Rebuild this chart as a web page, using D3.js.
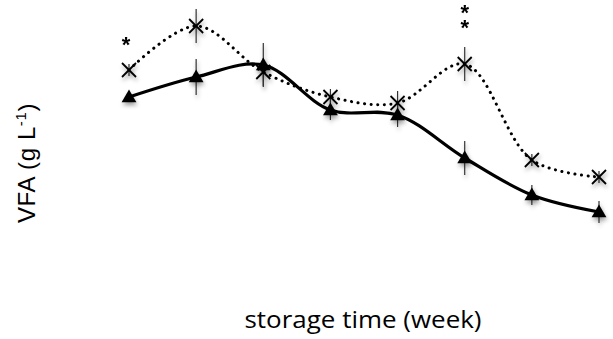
<!DOCTYPE html>
<html>
<head>
<meta charset="utf-8">
<script src="https://cdn.jsdelivr.net/npm/d3@7"></script>
<style>
  body { margin: 0; background: #fff; }
</style>
</head>
<body>
<div id="chart"></div>
<script>
const weeks = [0, 1, 2, 3, 4, 5, 6, 7];
const solidVals = [7.65, 8.65, 9.25, 7.0, 6.75, 4.6, 2.75, 1.9];
const solidErr = [0.2, 0.9, 1.1, 0.5, 0.6, 0.85, 0.5, 0.55];
const dottedVals = [9.0, 11.2, 8.9, 7.65, 7.35, 9.3, 4.5, 3.65];
const dottedErr = [0.3, 0.85, 0.7, 0.4, 0.6, 0.85, 0.3, 0.3];
const sigLabels = [{ week: 0, text: "*" }, { week: 5, text: "**" }];

const W = 613, H = 339;
const x = d3.scaleLinear().domain([0, 7]).range([129, 599]);
const y = d3.scaleLinear().domain([0, 12.5]).range([250, 0]);

const svg = d3.select("#chart").append("svg")
  .attr("width", W).attr("height", H);

const defs = svg.append("defs");
const f = defs.append("filter").attr("id", "shadow")
  .attr("x", "-50%").attr("y", "-50%").attr("width", "200%").attr("height", "200%");
f.append("feDropShadow").attr("dx", 1).attr("dy", 3).attr("stdDeviation", 2)
  .attr("flood-color", "#000").attr("flood-opacity", 0.35);

const line = d3.line().curve(d3.curveCatmullRom.alpha(0.5));

function series(vals) { return weeks.map((w, i) => [x(w), y(vals[i])]); }

// error bars
function errBars(vals, errs) {
  svg.append("g").attr("filter", "url(#shadow)")
    .selectAll("line").data(weeks).join("line")
    .attr("x1", d => x(d)).attr("x2", d => x(d))
    .attr("y1", (d, i) => y(vals[i] + errs[i]))
    .attr("y2", (d, i) => y(vals[i] - errs[i]))
    .attr("stroke", "#333").attr("stroke-width", 1.2);
}
errBars(solidVals, solidErr);
errBars(dottedVals, dottedErr);

svg.append("path").attr("d", line(series(dottedVals)))
  .attr("fill", "none").attr("stroke", "#000").attr("stroke-width", 3)
  .attr("stroke-linecap", "round").attr("stroke-dasharray", "0.1 6.5");

svg.append("path").attr("d", line(series(solidVals)))
  .attr("fill", "none").attr("stroke", "#000").attr("stroke-width", 3.2);

// triangles
const tri = d3.symbol().type(d3.symbolTriangle).size(95);
svg.append("g").attr("filter", "url(#shadow)")
  .selectAll("path").data(weeks).join("path")
  .attr("d", tri)
  .attr("transform", (d, i) => `translate(${x(d)},${y(solidVals[i]) + 1})`)
  .attr("fill", "#000");

// crosses
const cr = 7;
const cross = svg.append("g").attr("filter", "url(#shadow)")
  .selectAll("g").data(weeks).join("g")
  .attr("transform", (d, i) => `translate(${x(d)},${y(dottedVals[i])})`);
cross.append("line").attr("x1", -cr).attr("y1", -cr).attr("x2", cr).attr("y2", cr)
  .attr("stroke", "#000").attr("stroke-width", 1.8);
cross.append("line").attr("x1", -cr).attr("y1", cr).attr("x2", cr).attr("y2", -cr)
  .attr("stroke", "#000").attr("stroke-width", 1.8);

// significance marks (stacked asterisks in one text element)
sigLabels.forEach(s => {
  const i = weeks.indexOf(s.week);
  const top = y(dottedVals[i] + dottedErr[i]);
  const chars = s.text.split("");
  const gap = 15;
  const t = svg.append("text")
    .attr("text-anchor", "middle")
    .attr("font-family", "Liberation Sans, Arial, sans-serif")
    .attr("font-size", 22).attr("font-weight", "bold");
  chars.forEach((c, k) => {
    t.append("tspan")
      .attr("x", x(s.week) - (s.week === 0 ? 3 : 0))
      .attr("y", top - 12 - (chars.length - 1 - k) * gap)
      .text(c);
  });
});

// axis titles
const yl = svg.append("text")
  .attr("transform", "translate(35,163) rotate(-90)")
  .attr("text-anchor", "middle")
  .attr("font-family", "Liberation Sans, Arial, sans-serif")
  .attr("font-size", 24)
  .attr("letter-spacing", 0.6);
yl.append("tspan").text("VFA (g L");
yl.append("tspan").attr("dy", -9).attr("font-size", 15).text("-1");
yl.append("tspan").attr("dy", 9).text(")");

svg.append("text")
  .attr("x", 363).attr("y", 328)
  .attr("text-anchor", "middle")
  .attr("font-family", "Open Sans, sans-serif")
  .attr("font-size", 23)
  .attr("textLength", 237)
  .attr("lengthAdjust", "spacingAndGlyphs")
  .text("storage time (week)");
</script>
</body>
</html>
